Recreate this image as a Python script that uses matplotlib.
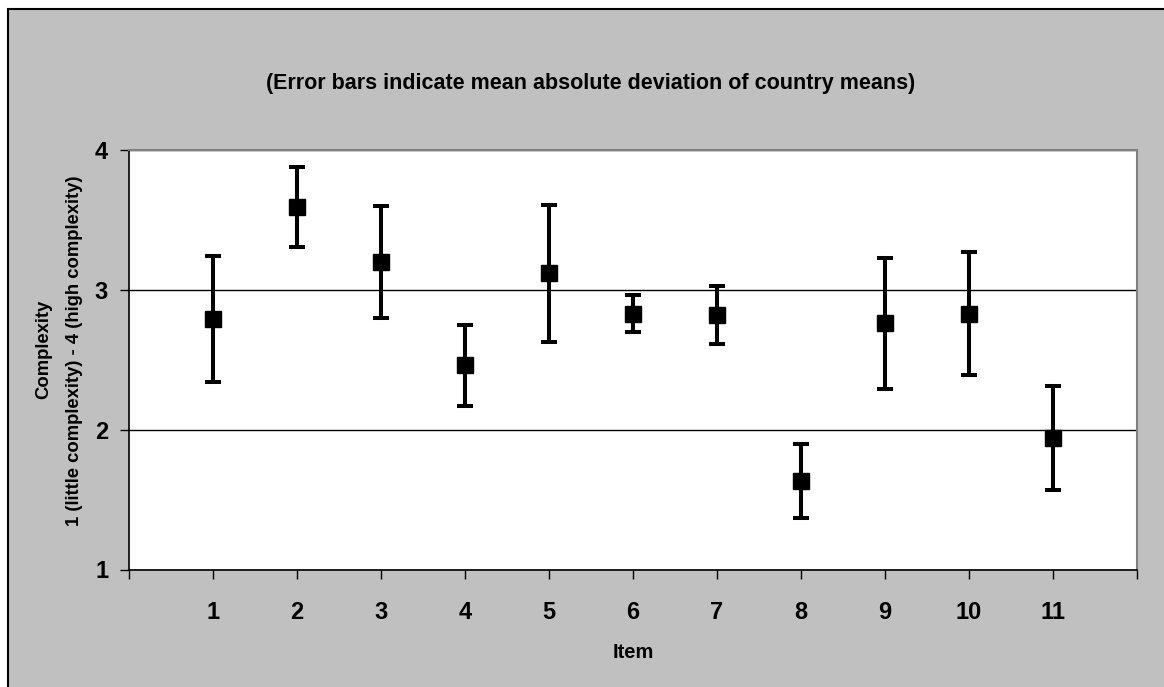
import matplotlib.pyplot as plt
from matplotlib.patches import Rectangle

plt.rcParams['font.family'] = ['Liberation Sans', 'DejaVu Sans']
plt.rcParams['font.weight'] = 'bold'

# item means and mean absolute deviation of country means
items = [1, 2, 3, 4, 5, 6, 7, 8, 9, 10, 11]
means = [2.79, 3.59, 3.20, 2.46, 3.12, 2.83, 2.82, 1.63, 2.76, 2.83, 1.94]
mad = [0.45, 0.285, 0.40, 0.29, 0.49, 0.135, 0.21, 0.265, 0.47, 0.44, 0.37]

y_ticks = [1, 2, 3, 4]
title = '(Error bars indicate mean absolute deviation of country means)'
y_label_top = 'Complexity'
y_label_bottom = '1 (little complexity) - 4 (high complexity)'

fig = plt.figure(figsize=(11.64, 6.87), dpi=100)
fig.patch.set_facecolor('white')

# grey chart area with a black frame on the left and top
fig.patches.append(Rectangle((8 / 1164, -0.1), 1.2, (687 - 9) / 687 + 0.1,
                             transform=fig.transFigure, facecolor='#c0c0c0',
                             edgecolor='black', linewidth=1.5, zorder=-10))

ax = fig.add_axes([129 / 1164, (687 - 569.5) / 687, 1008 / 1164, 419.5 / 687])
ax.set_facecolor('white')

ax.errorbar(items, means, yerr=mad, fmt='s', color='black', markersize=11,
            elinewidth=2.9, capsize=6, capthick=2.9, zorder=3)

ax.set_xlim(0, 12)
ax.set_ylim(1, 4)
ax.set_xticks(range(0, 13))
ax.set_xticklabels([''] + [str(i) for i in items] + [''])
ax.set_yticks(y_ticks)
ax.set_yticklabels([str(v) for v in y_ticks])

ax.yaxis.grid(True, color='black', linewidth=1.0)
ax.set_axisbelow(True)

for side in ['top', 'right']:
    ax.spines[side].set_color('#808080')
    ax.spines[side].set_linewidth(1.5)
for side in ['left', 'bottom']:
    ax.spines[side].set_color('black')
    ax.spines[side].set_linewidth(1.2)

ax.tick_params(axis='x', direction='out', length=6.5, width=1, pad=16, labelsize=17)
ax.tick_params(axis='y', direction='out', length=6.5, width=1, pad=8.5, labelsize=17)

ax.set_xlabel('Item', fontsize=14.5, fontweight='bold', labelpad=14)

# two-line y axis title, placed as separate rotated texts
fig.text(44 / 1164, 1 - 349 / 687, y_label_top, rotation=90,
         ha='center', va='center', fontsize=13.3, fontweight='bold')
fig.text(75 / 1164, 1 - 351 / 687, y_label_bottom, rotation=90,
         ha='center', va='center', fontsize=13.3, fontweight='bold')

fig.text(591 / 1164, 1 - 83 / 687, title, ha='center', va='center',
         fontsize=15.5, fontweight='bold')

fig.savefig('out.png', dpi=100)
